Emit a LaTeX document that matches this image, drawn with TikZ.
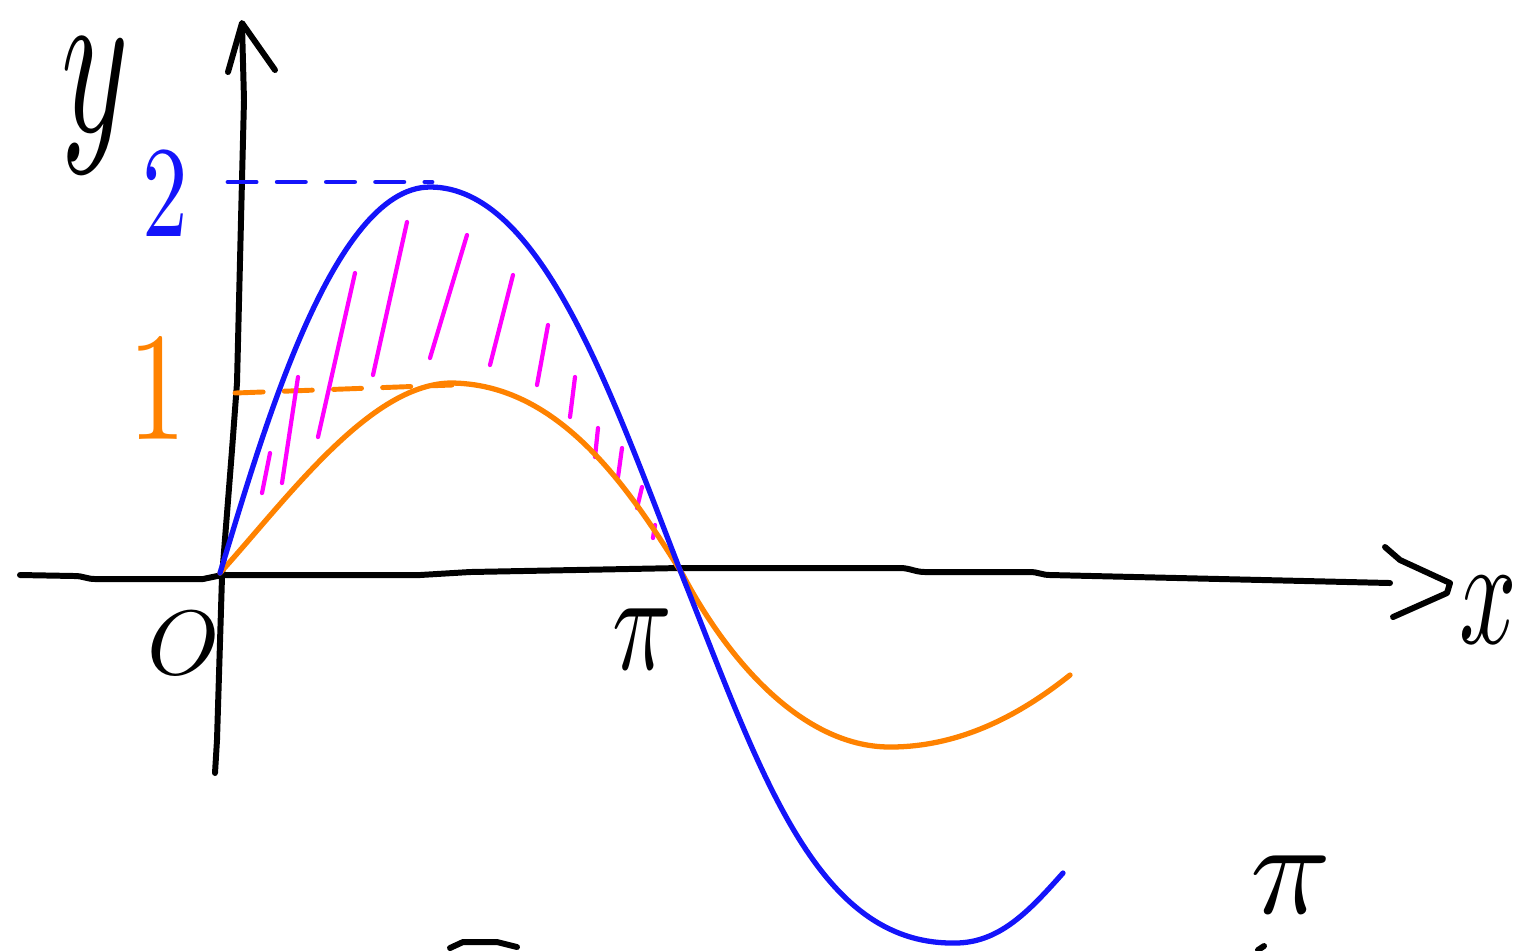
\documentclass[tikz,border=0pt]{standalone}
\usepackage{graphicx}
\usepackage{unicode-math}
\usepackage{tikz}
\definecolor{penblue}{RGB}{20,20,250}
\definecolor{penorange}{RGB}{255,130,0}
\definecolor{penpink}{RGB}{255,0,255}

\begin{document}
\begin{tikzpicture}[x=0.01cm, y=-0.01cm, line cap=round, line join=round,
    axisline/.style={black, line width=1.7pt},
    curve/.style={line width=1.5pt},
    hatch/.style={penpink, line width=1.2pt},
    guide/.style={line width=1.4pt, dash pattern=on 8pt off 6pt},
    lab/.style={inner sep=0pt}]
  \useasboundingbox (0,0) rectangle (1521,950);
  % --- axes (hand drawn, slightly wavy) ---
  \draw[axisline] (20,575) -- (75,576) to[out=0,in=180] (95,579) -- (203,579) -- (222,575)
    -- (420,575) -- (470,572) -- (680,568) -- (900,568) to[out=0,in=180] (925,572) -- (1030,572)
    to[out=0,in=180] (1050,575) -- (1390,583);
  \draw[axisline] (1385,547) -- (1400,560) -- (1450,583) -- (1447,593) -- (1393,617);
  \draw[axisline] (215,773) -- (217,740) -- (222,577) -- (232,450) -- (237,383)
    -- (242,180) -- (244,100) -- (242,25);
  \draw[axisline] (228,72) -- (242,23) -- (275,70);
  % --- guide lines to the maxima ---
  \draw[guide, penblue]   (228,182) -- (432,182);
  \draw[guide, penorange] (235,393) -- (452,385);
  % --- hatching between the two curves on [0,pi] ---
  \foreach \xa/\ya/\xb/\yb in {270/453/262/493, 298/377/282/483, 355/273/318/437,
      407/222/373/375, 467/235/430/358, 513/275/490/365, 548/325/537/385,
      575/377/570/417, 598/428/595/457, 622/448/618/477, 642/487/637/508, 655/525/653/538}
    \draw[hatch] (\xa,\ya) -- (\xb,\yb);
  % --- y = sin x ---
  \draw[curve, penorange] (220,573) .. controls (290,495) and (370,385) .. (450,383)
    .. controls (560,383) and (630,490) .. (683,575)
    .. controls (725,655) and (800,747) .. (890,747)
    .. controls (960,747) and (1020,715) .. (1070,675);
  % --- y = 2 sin x ---
  \draw[curve, penblue] (220,573) .. controls (258,450) and (330,187) .. (430,187)
    .. controls (540,187) and (610,390) .. (680,570)
    .. controls (760,770) and (815,945) .. (955,943)
    .. controls (1000,943) and (1030,910) .. (1063,873);
  % --- labels ---
  \node[lab, font=\fontsize{56}{56}\selectfont] (ylab) at (95,106) {\scalebox{0.65}[1.1]{$y$}};
  \node[lab, font=\fontsize{44}{44}\selectfont] (xlab) at (1488,610) {\scalebox{0.65}[1]{$x$}};
  \node[lab, font=\fontsize{26}{26}\selectfont] (olab) at (183,643) {$O$};
  \node[lab, font=\fontsize{40}{40}\selectfont] (pilab) at (642,640) {\scalebox{0.7}[1]{$\pi$}};
  \node[lab, font=\fontsize{37}{37}\selectfont, penblue] (twolab) at (165,193) {\scalebox{0.7}[1]{$2$}};
  \node[lab, font=\fontsize{44}{44}\selectfont, penorange] (onelab) at (158,388) {\scalebox{0.75}[1]{$1$}};
  \node[lab, font=\fontsize{38}{38}\selectfont] (pibot) at (1290,885) {$\pi$};
  % cut-off strokes at the lower edge
  \draw[axisline] (450,948) -- (463,942) -- (497,942) -- (517,947);
  \draw[axisline] (1258,950) -- (1264,946);
\end{tikzpicture}
\end{document}
